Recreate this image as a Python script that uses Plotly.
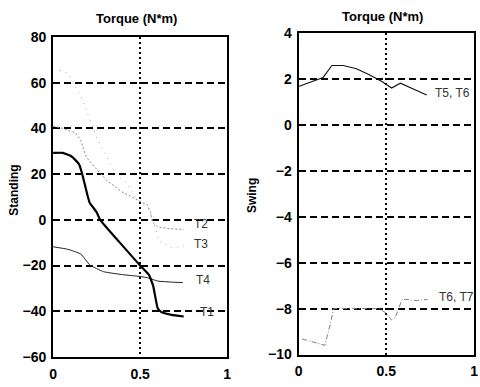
import plotly.graph_objects as go

# ---- Standing phase torques (N*m) vs normalised time ----
t1_x = [0.0, 0.056, 0.10, 0.13, 0.15, 0.17, 0.19, 0.20, 0.21, 0.25, 0.27, 0.50, 0.55, 0.575, 0.60, 0.62, 0.68, 0.75]
t1_y = [29.3, 29.3, 28.0, 26.0, 24.2, 19.2, 13.0, 10.0, 7.5, 3.3, 0.0, -20.0, -24.0, -29.0, -38.6, -40.3, -41.6, -42.3]

t2_x = [0.0, 0.056, 0.13, 0.16, 0.19, 0.235, 0.31, 0.395, 0.45, 0.50, 0.54, 0.56, 0.57, 0.60, 0.67, 0.75]
t2_y = [41.0, 40.0, 38.0, 34.6, 27.5, 23.4, 17.1, 12.2, 10.1, 8.0, 6.7, 3.2, -1.0, -3.1, -3.9, -4.2]

t3_x = [0.04, 0.085, 0.16, 0.25, 0.28, 0.36, 0.42, 0.47, 0.50, 0.55, 0.57, 0.59, 0.61, 0.68, 0.75]
t3_y = [65.4, 64.0, 54.1, 36.0, 31.8, 20.0, 16.4, 10.0, 8.0, 4.6, 0.4, -5.0, -9.4, -12.2, -11.5]

t4_x = [0.0, 0.085, 0.16, 0.21, 0.29, 0.40, 0.50, 0.55, 0.60, 0.745]
t4_y = [-11.8, -12.9, -15.0, -19.7, -22.7, -24.0, -24.8, -25.5, -26.8, -27.5]

# ---- Swing phase torques (N*m) ----
t56_x = [0.0, 0.077, 0.14, 0.19, 0.255, 0.33, 0.40, 0.475, 0.53, 0.58, 0.645, 0.73]
t56_y = [1.67, 1.88, 2.06, 2.58, 2.58, 2.44, 2.19, 1.88, 1.60, 1.81, 1.60, 1.30]

t67_x = [0.02, 0.115, 0.15, 0.18, 0.20, 0.31, 0.46, 0.50, 0.53, 0.55, 0.59, 0.61, 0.67, 0.735]
t67_y = [-9.32, -9.53, -9.60, -8.70, -8.00, -8.00, -8.00, -8.20, -8.50, -8.40, -7.60, -7.60, -7.65, -7.60]

standing_ticks = [-60, -40, -20, 0, 20, 40, 60, 80]
swing_ticks = [-10, -8, -6, -4, -2, 0, 2, 4]
x_ticks = [0, 0.5, 1]
x_tick_text = ["0", "0.5", "1"]

standing_labels = [("T2", 0.80, -1.7), ("T3", 0.80, -10.8), ("T4", 0.81, -26.2), ("T1", 0.83, -40.5)]
swing_labels = [("T5, T6", 0.765, 1.4), ("T6, T7", 0.79, -7.5)]

fig = go.Figure()

fig.add_trace(go.Scatter(x=t3_x, y=t3_y, mode="lines", xaxis="x", yaxis="y",
                         line=dict(color="#a8a8a8", width=1, dash="1px,5px")))
fig.add_trace(go.Scatter(x=t2_x, y=t2_y, mode="lines", xaxis="x", yaxis="y",
                         line=dict(color="#8a8a8a", width=1, dash="2px,2px")))
fig.add_trace(go.Scatter(x=t4_x, y=t4_y, mode="lines", xaxis="x", yaxis="y",
                         line=dict(color="#222222", width=1, shape="spline", smoothing=0.4)))
fig.add_trace(go.Scatter(x=t1_x, y=t1_y, mode="lines", xaxis="x", yaxis="y",
                         line=dict(color="#000000", width=2.2, shape="spline", smoothing=0.3)))

fig.add_trace(go.Scatter(x=t56_x, y=t56_y, mode="lines", xaxis="x2", yaxis="y2",
                         line=dict(color="#111111", width=1.1)))
fig.add_trace(go.Scatter(x=t67_x, y=t67_y, mode="lines", xaxis="x2", yaxis="y2",
                         line=dict(color="#808080", width=1, dash="5px,2px,1px,2px")))

tick_font = dict(family="Liberation Sans", size=14, color="#000000", weight="bold")
common_x = dict(range=[0, 1], tickvals=x_ticks, ticktext=x_tick_text, showgrid=True,
                gridcolor="#000000", gridwidth=2, griddash="2px,3px", zeroline=False,
                showline=True, linecolor="#000000", linewidth=2, mirror=True,
                ticks="", tickfont=tick_font, ticklabelstandoff=3)
common_y = dict(showgrid=True, gridcolor="#000000", gridwidth=1.8, griddash="7px,4px",
                zeroline=False, showline=True, linecolor="#000000", linewidth=2, mirror=True,
                ticks="", tickfont=tick_font, ticklabelstandoff=2)

annotations = []
for text, x, y in standing_labels:
    annotations.append(dict(x=x, y=y, xref="x", yref="y", text=text, showarrow=False,
                            xanchor="left", yanchor="middle",
                            font=dict(family="Liberation Sans", size=12, color="#333333")))
for text, x, y in swing_labels:
    annotations.append(dict(x=x, y=y, xref="x2", yref="y2", text=text, showarrow=False,
                            xanchor="left", yanchor="middle",
                            font=dict(family="Liberation Sans", size=12, color="#333333")))

title_font = dict(family="Liberation Sans", size=13, color="#000000")
annotations += [
    dict(x=0.281, y=0.972, xref="paper", yref="paper", text="<b>Torque (N*m)</b>",
         showarrow=False, xanchor="center", yanchor="middle", font=title_font),
    dict(x=0.802, y=0.978, xref="paper", yref="paper", text="<b>Torque (N*m)</b>",
         showarrow=False, xanchor="center", yanchor="middle", font=title_font),
    dict(x=0.021, y=0.51, xref="paper", yref="paper", text="<b>Standing</b>", textangle=-90,
         showarrow=False, xanchor="center", yanchor="middle",
         font=dict(family="Liberation Sans", size=12, color="#000000")),
    dict(x=0.527, y=0.495, xref="paper", yref="paper", text="<b>Swing</b>", textangle=-90,
         showarrow=False, xanchor="center", yanchor="middle",
         font=dict(family="Liberation Sans", size=12, color="#000000")),
]

fig.update_layout(
    width=480, height=387,
    margin=dict(l=0, r=0, t=0, b=0),
    paper_bgcolor="#ffffff", plot_bgcolor="#ffffff",
    showlegend=False,
    xaxis=dict(domain=[0.104, 0.473], anchor="y", **common_x),
    yaxis=dict(domain=[0.0594, 0.922], anchor="x", range=[-60, 80],
               tickvals=standing_ticks, **common_y),
    xaxis2=dict(domain=[0.624, 0.996], anchor="y2", **common_x),
    yaxis2=dict(domain=[0.0659, 0.933], anchor="x2", range=[-10, 4],
                tickvals=swing_ticks, **common_y),
    annotations=annotations,
)

fig.write_html("out.html")
